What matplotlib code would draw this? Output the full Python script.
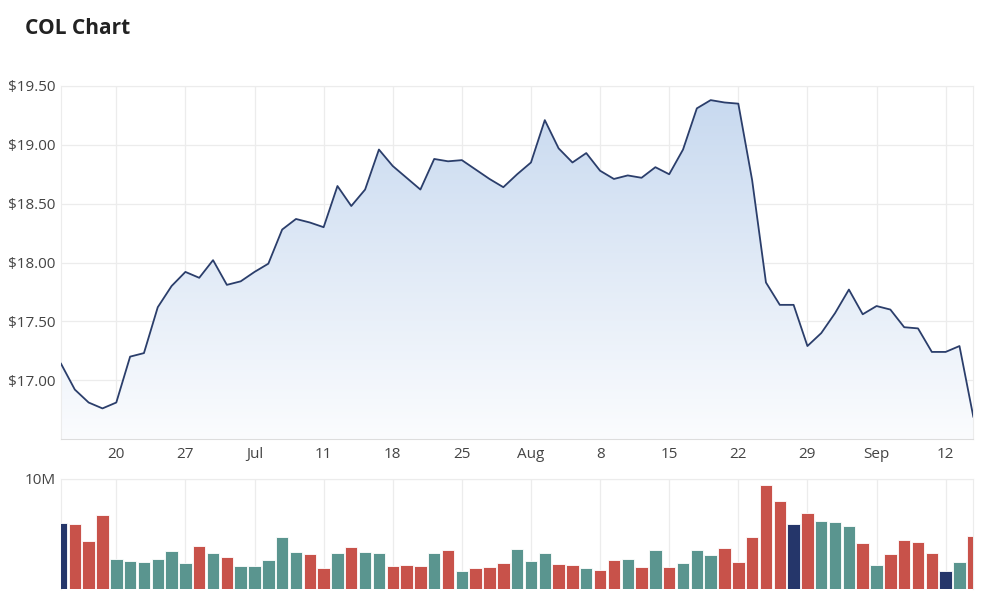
import numpy as np
import matplotlib
matplotlib.use("Agg")
import matplotlib.pyplot as plt
from matplotlib.colors import LinearSegmentedColormap

plt.rcParams['font.family'] = ['Open Sans', 'DejaVu Sans']

# closing prices, one per trading day (14 Jun - 14 Sep)
prices = [17.14, 16.92, 16.81, 16.76, 16.81, 17.20, 17.23, 17.62, 17.80, 17.92,
          17.87, 18.02, 17.81, 17.84, 17.92, 17.99, 18.28, 18.37, 18.34, 18.30,
          18.65, 18.48, 18.62, 18.96, 18.82, 18.72, 18.62, 18.88, 18.86, 18.87,
          18.79, 18.71, 18.64, 18.75, 18.85, 19.21, 18.97, 18.85, 18.93, 18.78,
          18.71, 18.74, 18.72, 18.81, 18.75, 18.96, 19.31, 19.38, 19.36, 19.35,
          18.70, 17.83, 17.64, 17.64, 17.29, 17.40, 17.57, 17.77, 17.56, 17.63,
          17.60, 17.45, 17.44, 17.24, 17.24, 17.29, 16.69]

# volume in millions
volumes = [6.0, 5.9, 4.4, 6.7, 2.75, 2.57, 2.48, 2.75, 3.5, 2.36,
           3.9, 3.27, 2.88, 2.06, 2.06, 2.66, 4.7, 3.39, 3.18, 1.88,
           3.27, 3.78, 3.39, 3.27, 2.06, 2.18, 2.06, 3.27, 3.57, 1.66,
           1.88, 2.0, 2.36, 3.66, 2.57, 3.27, 2.27, 2.18, 1.88, 1.75,
           2.66, 2.75, 1.97, 3.57, 1.97, 2.36, 3.54, 3.12, 3.75, 2.48,
           4.7, 9.42, 8.0, 5.88, 6.9, 6.18, 6.09, 5.7, 4.18, 2.18,
           3.18, 4.48, 4.3, 3.27, 1.66, 2.48, 4.78]

tick_idx = [4, 9, 14, 19, 24, 29, 34, 39, 44, 49, 54, 59, 64]
tick_labels = ['20', '27', 'Jul', '11', '18', '25', 'Aug', '8', '15', '22', '29', 'Sep', '12']
price_ticks = [17.0, 17.5, 18.0, 18.5, 19.0, 19.5]

UP, DOWN, FLAT = '#5a958f', '#c8524a', '#25366a'
LINE = '#2b3e6b'
GRID = '#ececec'
TXT = '#444444'

x = np.arange(len(prices))
p = np.array(prices)

fig = plt.figure(figsize=(10, 6.06), dpi=100)
fig.text(0.025, 1 - 28 / 606, 'COL Chart', fontsize=15, fontweight='bold',
         color='#222222', va='center', ha='left')

# --- price panel ---
ax = fig.add_axes([0.061, 1 - 439 / 606, 0.9123, 353 / 606])
ax.set_xlim(0, len(prices) - 1)
ax.set_ylim(16.5, 19.5)

# gradient fill under the line
cmap = LinearSegmentedColormap.from_list('g', ['#fbfcfe', '#c6d8ef'])
grad = np.linspace(0, 1, 256).reshape(-1, 1)
im = ax.imshow(grad, aspect='auto', cmap=cmap, origin='lower',
               extent=[0, len(prices) - 1, 16.5, 19.5], zorder=1)
poly = ax.fill_between(x, p, 16.5, color='none')
im.set_clip_path(poly.get_paths()[0], transform=ax.transData)
ax.plot(x, p, color=LINE, lw=1.3, zorder=3)

ax.set_yticks(price_ticks)
ax.set_yticklabels(['$%.2f' % v for v in price_ticks])
ax.set_xticks(tick_idx)
ax.set_xticklabels(tick_labels)
ax.grid(True, color=GRID, lw=0.9)
ax.set_axisbelow(True)
ax.tick_params(length=0, labelsize=11, colors=TXT, pad=4)
ax.tick_params(axis='x', pad=6)
for s in ax.spines.values():
    s.set_color(GRID)
ax.spines['bottom'].set_color('#dddddd')

# --- volume panel ---
vax = fig.add_axes([0.061, 1 - 589 / 606, 0.9123, 110 / 606])
cols = [FLAT]
for i in range(1, len(prices)):
    d = round(prices[i] - prices[i - 1], 2)
    cols.append(UP if d > 0 else DOWN if d < 0 else FLAT)
vax.bar(x, volumes, width=0.9, color=cols, edgecolor='white', linewidth=0.6, zorder=3)
vax.set_xlim(0, len(prices) - 1)
vax.set_ylim(0, 10)
vax.set_yticks([10])
vax.set_yticklabels(['10M'])
vax.set_xticks(tick_idx)
vax.set_xticklabels([])
vax.grid(True, color=GRID, lw=0.9)
vax.set_axisbelow(True)
vax.tick_params(length=0, labelsize=11, colors=TXT, pad=4)
for s in vax.spines.values():
    s.set_color(GRID)
vax.spines['bottom'].set_visible(False)

fig.savefig('out.png', dpi=100, facecolor='white')
